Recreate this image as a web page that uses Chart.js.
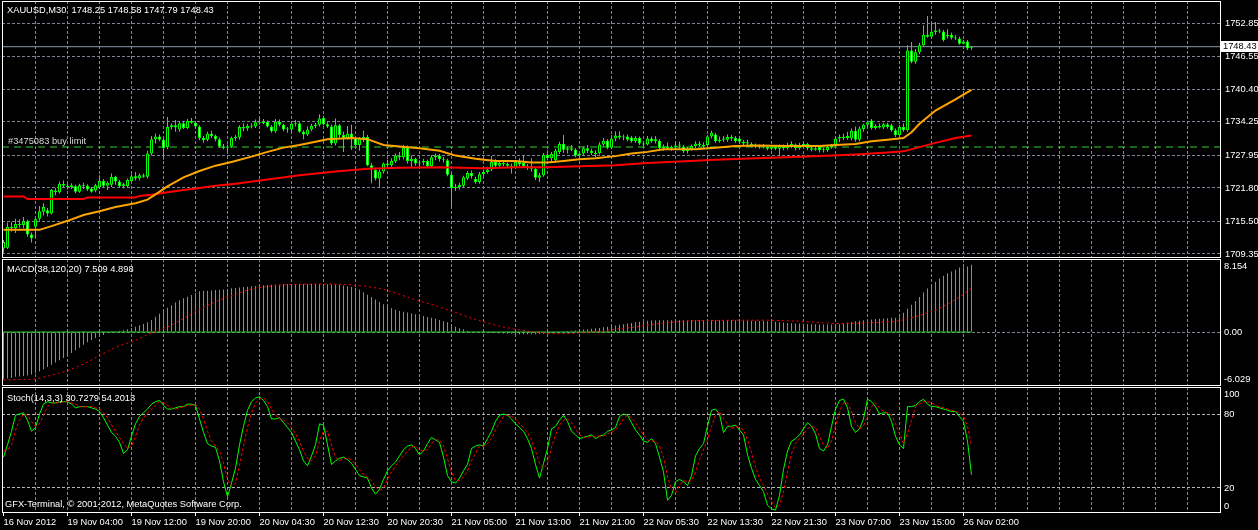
<!DOCTYPE html>
<html>
<head>
<meta charset="utf-8">
<title>XAUUSD,M30</title>
<script src="https://cdn.jsdelivr.net/npm/chart.js@4.4.1/dist/chart.umd.min.js"></script>
<style>
  html, body { margin: 0; padding: 0; background: #000; }
  body { position: relative; width: 1258px; height: 530px; overflow: hidden; }
  canvas { position: absolute; left: 0; display: block; }
  .txt { position: absolute; color: #fff; font: 9.3px/11px "Liberation Sans", Arial, sans-serif; white-space: pre; }
</style>
</head>
<body>
<canvas id="priceChart" width="1258" height="258" style="top:0px"></canvas>
<canvas id="macdChart" width="1258" height="128" style="top:258px"></canvas>
<canvas id="stochChart" width="1258" height="144" style="top:386px"></canvas>
<div class="txt" id="priceTitle" style="left:7px;top:5px"></div>
<div class="txt" id="macdTitle" style="left:7px;top:264px"></div>
<div class="txt" id="stochTitle" style="left:7px;top:393px"></div>
<div class="txt" id="copyright" style="left:5px;top:499px"></div>
<script>
// ---- data (M30 bars, index 0 = first bar on screen) ----
const symbol = 'XAUUSD,M30'
const macdCaption = 'MACD(38,120,20) 7.509 4.898'
const stochCaption = 'Stoch(14,3,3) 30.7279 54.2013'
const copyrightText = 'GFX-Terminal, \u00a9 2001-2012, MetaQuotes Software Corp.'
const buyLimitText = '#3475083 buy limit'
const buyLimitPrice = 1729.52

const xLabelBars = [0, 16, 32, 48, 64, 80, 96, 112, 128, 144, 160, 176, 192, 208, 224, 240]
const xLabelTexts = ['16 Nov 2012', '19 Nov 04:00', '19 Nov 12:00', '19 Nov 20:00', '20 Nov 04:30',
  '20 Nov 12:30', '20 Nov 20:30', '21 Nov 05:00', '21 Nov 13:00', '21 Nov 21:00', '22 Nov 05:30',
  '22 Nov 13:30', '22 Nov 21:30', '23 Nov 07:00', '23 Nov 15:00', '26 Nov 02:00']

const priceTicks = [1752.85, 1746.55, 1740.40, 1734.25, 1727.95, 1721.80, 1715.50, 1709.35]
const macdTickValues = [8.154, 0, -6.029]
const macdTickLabels = ['8.154', '0.00', '-6.029']
const stochTickValues = [100, 80, 20, 0]
const stochTickLabels = ['100', '80', '20', '0']
const stochLevels = [20, 80]

const opens = [
  1710.4,1710.5,1714.5,1714.2,1715.0,1714.8,1715.5,1713.0,1714.5,1716.0,
  1717.3,1717.6,1717.0,1721.3,1721.0,1722.6,1722.2,1722.0,1722.1,1721.1,
  1722.3,1722.2,1721.7,1721.3,1721.9,1723.1,1722.2,1722.4,1723.9,1723.0,
  1722.1,1722.1,1723.1,1724.0,1723.6,1724.2,1723.9,1728.3,1731.0,1731.5,
  1730.9,1729.5,1733.3,1733.6,1732.8,1734.0,1733.1,1734.4,1734.1,1733.4,
  1731.2,1730.9,1732.0,1731.6,1731.0,1729.6,1729.4,1729.6,1731.2,1731.3,
  1733.3,1733.0,1733.5,1733.4,1734.2,1734.0,1734.3,1733.4,1732.5,1734.3,
  1733.7,1732.8,1732.8,1733.9,1734.0,1732.4,1731.9,1732.8,1733.5,1733.7,
  1735.0,1733.8,1733.4,1730.2,1733.6,1731.8,1731.2,1732.0,1731.2,1729.9,
  1731.1,1731.4,1726.1,1725.2,1723.6,1724.9,1726.4,1726.1,1726.8,1727.9,
  1727.6,1729.4,1726.9,1727.3,1726.4,1726.6,1726.9,1725.9,1727.6,1727.9,
  1727.2,1727.0,1724.3,1721.8,1722.0,1722.2,1723.6,1724.6,1723.5,1722.9,
  1724.4,1724.8,1725.3,1726.7,1726.0,1726.5,1726.3,1726.0,1725.7,1726.7,
  1726.5,1725.9,1725.9,1725.4,1723.7,1724.2,1728.0,1727.4,1727.0,1728.6,
  1730.1,1729.0,1729.3,1729.0,1727.9,1728.3,1729.3,1728.8,1728.4,1728.4,
  1730.0,1730.7,1729.4,1731.1,1731.7,1731.3,1731.5,1731.3,1730.6,1731.2,
  1730.2,1730.0,1731.1,1730.6,1730.7,1729.3,1729.6,1729.3,1729.5,1729.8,
  1729.6,1728.7,1729.1,1729.7,1730.2,1729.9,1729.9,1731.5,1731.9,1730.6,
  1730.9,1730.9,1731.4,1731.2,1731.1,1730.5,1730.2,1730.1,1729.8,1729.6,
  1729.7,1729.5,1729.2,1729.6,1729.2,1729.7,1729.3,1729.9,1730.0,1729.3,
  1729.9,1730.1,1729.3,1729.0,1729.5,1728.9,1728.9,1729.5,1729.8,1731.1,
  1731.4,1731.2,1731.1,1732.6,1730.9,1732.9,1733.7,1734.5,1733.1,1733.5,
  1733.2,1733.8,1733.6,1732.7,1731.8,1733.3,1732.7,1747.7,1745.6,1747.4,
  1748.7,1750.7,1750.3,1751.2,1751.5,1751.3,1750.4,1750.7,1750.1,1750.0,
  1749.0,1749.4,1748.25
]
const highs = [
  1712.0,1715.3,1715.4,1716.0,1715.9,1716.3,1715.8,1713.4,1716.2,1718.4,
  1718.9,1718.0,1721.6,1721.8,1723.0,1723.2,1722.6,1722.7,1722.4,1722.6,
  1722.8,1722.5,1722.0,1722.6,1724.2,1723.5,1723.0,1724.5,1724.1,1723.3,
  1722.8,1723.6,1724.4,1724.8,1724.5,1724.5,1728.8,1731.6,1732.0,1731.9,
  1731.2,1735.2,1734.0,1734.6,1734.3,1734.4,1734.8,1735.0,1734.3,1733.6,
  1731.6,1732.4,1732.6,1731.9,1731.3,1730.1,1730.0,1731.5,1731.8,1733.6,
  1734.0,1733.9,1734.0,1734.7,1735.0,1734.8,1734.5,1733.6,1734.8,1734.7,
  1733.9,1733.3,1734.2,1734.6,1734.3,1732.7,1733.4,1733.9,1734.1,1735.7,
  1735.4,1734.2,1733.7,1734.9,1733.9,1732.4,1733.5,1733.7,1731.5,1731.4,
  1732.6,1731.8,1726.5,1725.6,1725.3,1726.6,1727.1,1727.4,1728.3,1728.6,
  1729.9,1729.8,1727.9,1727.5,1727.0,1727.3,1727.1,1728.0,1728.3,1728.2,
  1727.7,1727.3,1724.6,1722.6,1722.8,1724.1,1725.0,1725.1,1723.9,1724.8,
  1725.3,1725.8,1727.8,1727.2,1726.9,1727.0,1726.6,1726.4,1727.0,1727.4,
  1728.0,1726.3,1727.4,1725.7,1724.6,1728.4,1728.9,1728.6,1729.2,1730.5,
  1731.8,1729.6,1729.9,1729.3,1728.5,1729.6,1729.9,1729.2,1728.9,1730.4,
  1731.2,1731.0,1731.8,1732.5,1732.5,1731.9,1731.9,1731.6,1731.6,1731.5,
  1730.6,1731.6,1731.5,1731.6,1731.0,1730.0,1730.4,1729.8,1730.4,1730.5,
  1729.9,1729.5,1730.0,1730.6,1730.6,1730.4,1731.8,1732.6,1732.2,1731.5,
  1731.6,1731.9,1731.8,1731.6,1731.4,1730.8,1730.9,1730.4,1730.2,1730.0,
  1730.1,1729.8,1729.9,1729.9,1730.0,1730.0,1730.3,1730.6,1730.2,1730.3,
  1730.5,1730.3,1729.6,1729.6,1729.7,1729.4,1729.8,1730.1,1731.5,1731.9,
  1732.0,1732.4,1733.0,1733.4,1733.4,1733.9,1734.5,1734.8,1733.8,1734.0,
  1734.1,1734.1,1733.9,1733.0,1733.7,1734.0,1748.7,1749.3,1748.0,1749.2,
  1752.5,1754.2,1752.8,1753.1,1751.8,1751.6,1751.7,1751.1,1750.6,1750.3,
  1749.7,1749.7,1748.58
]
const lows = [
  1709.6,1710.3,1713.6,1713.3,1714.3,1714.2,1712.6,1711.5,1712.3,1715.6,
  1716.6,1716.4,1716.8,1720.4,1720.7,1721.8,1721.5,1721.6,1720.8,1720.9,
  1721.6,1721.2,1720.9,1721.0,1721.6,1721.8,1721.4,1722.0,1722.4,1721.8,
  1721.7,1721.9,1722.9,1723.2,1723.2,1723.7,1723.6,1727.9,1730.2,1730.6,
  1727.1,1729.1,1732.8,1732.4,1732.4,1732.9,1732.9,1733.9,1733.1,1730.8,
  1730.3,1730.6,1731.2,1730.6,1729.4,1729.1,1728.6,1729.4,1730.7,1730.9,
  1732.5,1732.6,1733.0,1733.1,1733.7,1733.8,1733.2,1732.2,1732.2,1733.4,
  1732.5,1732.2,1732.4,1733.4,1732.2,1731.0,1731.6,1732.5,1733.1,1733.4,
  1733.6,1733.1,1729.9,1729.8,1731.2,1728.6,1730.9,1729.0,1729.6,1728.8,
  1730.4,1725.9,1722.7,1723.2,1721.8,1724.5,1725.6,1725.8,1726.5,1727.0,
  1727.2,1726.4,1725.5,1726.0,1725.9,1726.1,1725.6,1725.6,1727.0,1726.8,
  1726.6,1724.0,1718.3,1721.2,1721.5,1721.9,1723.3,1723.6,1722.6,1722.6,
  1723.9,1724.5,1725.0,1725.7,1725.8,1725.9,1725.6,1724.5,1725.4,1725.9,
  1725.6,1725.2,1724.9,1723.3,1722.9,1723.9,1727.0,1726.6,1726.6,1728.2,
  1728.4,1728.3,1728.7,1727.6,1727.4,1728.0,1728.4,1728.0,1727.6,1728.1,
  1729.6,1729.1,1729.1,1730.6,1731.0,1730.8,1730.6,1730.3,1730.3,1729.9,
  1729.6,1729.8,1730.3,1730.2,1728.9,1728.8,1729.0,1728.8,1729.0,1729.2,
  1728.4,1728.3,1728.8,1729.3,1729.6,1729.4,1729.6,1731.1,1730.3,1730.3,
  1730.5,1730.5,1730.7,1730.3,1730.2,1729.9,1729.6,1729.5,1729.3,1729.2,
  1729.3,1728.9,1728.9,1728.9,1727.8,1728.9,1729.0,1729.3,1728.9,1729.0,
  1729.5,1728.9,1728.7,1728.8,1728.5,1728.5,1728.6,1729.2,1729.5,1730.4,
  1730.8,1730.9,1730.8,1730.5,1730.6,1732.4,1733.2,1732.8,1732.8,1733.0,
  1732.9,1733.0,1732.4,1731.4,1731.5,1732.4,1732.4,1745.3,1745.2,1747.0,
  1748.4,1750.1,1750.0,1750.7,1751.0,1749.4,1750.0,1749.8,1749.7,1748.8,
  1748.9,1747.8,1747.79
]
const closes = [
  1711.6,1714.5,1714.2,1715.0,1714.8,1715.5,1713.0,1712.3,1715.9,1717.4,
  1718.2,1717.0,1721.4,1721.0,1722.6,1722.2,1722.0,1722.3,1721.1,1722.3,
  1722.2,1721.5,1721.1,1722.3,1723.1,1722.2,1722.8,1723.9,1723.0,1722.1,
  1722.5,1723.3,1724.0,1723.6,1724.2,1723.9,1728.3,1731.0,1731.5,1730.9,
  1729.3,1733.3,1733.6,1733.2,1734.0,1733.1,1734.4,1734.1,1733.4,1731.2,
  1730.8,1732.0,1731.6,1731.0,1729.6,1729.4,1729.6,1731.2,1731.3,1733.3,
  1733.0,1733.5,1733.4,1734.2,1734.0,1734.3,1733.4,1732.5,1734.3,1733.7,
  1732.8,1733.0,1733.9,1734.0,1732.4,1731.9,1732.8,1733.5,1733.7,1734.9,
  1733.8,1733.4,1730.2,1733.6,1731.8,1731.2,1732.0,1731.2,1729.9,1731.1,
  1731.4,1726.1,1725.5,1723.6,1724.9,1726.4,1726.1,1726.9,1727.9,1727.6,
  1729.4,1726.9,1727.3,1726.4,1726.6,1726.9,1725.9,1727.6,1727.9,1727.2,
  1727.0,1724.3,1721.8,1722.0,1722.4,1723.8,1724.6,1724.0,1722.9,1724.4,
  1724.8,1725.3,1726.7,1726.0,1726.5,1726.3,1726.0,1725.7,1726.7,1726.2,
  1725.9,1725.6,1725.4,1723.7,1724.2,1728.0,1727.4,1728.2,1728.8,1730.1,
  1729.0,1729.3,1729.0,1727.9,1728.3,1729.3,1728.8,1728.4,1728.2,1730.0,
  1730.7,1729.4,1731.1,1731.7,1731.3,1731.5,1730.9,1730.6,1731.2,1730.2,
  1730.0,1731.1,1730.6,1731.0,1729.3,1729.6,1729.3,1729.5,1729.8,1730.0,
  1728.7,1729.1,1729.7,1730.2,1729.9,1729.7,1731.5,1732.2,1730.6,1730.9,
  1731.1,1731.4,1731.1,1730.6,1730.5,1730.2,1730.4,1729.8,1729.6,1729.7,
  1729.9,1729.2,1729.6,1729.2,1729.7,1729.3,1729.9,1730.0,1729.3,1729.9,
  1730.1,1729.3,1729.0,1729.3,1728.9,1729.1,1729.5,1729.8,1731.1,1731.4,
  1731.2,1731.6,1732.6,1730.9,1733.0,1733.7,1734.2,1733.1,1733.5,1733.2,
  1733.8,1733.3,1732.7,1731.8,1733.3,1732.7,1747.7,1745.6,1747.4,1748.7,
  1750.7,1750.3,1751.2,1751.5,1751.3,1749.7,1750.7,1750.1,1750.0,1749.0,
  1749.4,1748.1,1748.43
]

// moving averages, read at the bars where they bend
const maFastBars = [0,9,12,16,20,24,28,33,36,38,41,45,49,53,57,62,66,70,74,78,81,87,91,95,99,104,109,113,118,123,
  128,132,136,140,144,148,153,157,161,165,169,173,178,183,188,196,204,208,213,217,221,225,227,229,233,238,242]
const maFastValues = [1713.9,1713.9,1714.6,1715.6,1716.7,1717.4,1718.2,1718.9,1719.6,1720.6,1722.1,1723.8,1725.0,1726.0,1726.7,
  1727.7,1728.6,1729.4,1729.9,1730.5,1731.0,1731.2,1731.0,1729.9,1729.6,1729.3,1728.8,1727.9,1727.3,1726.9,
  1726.9,1726.6,1726.6,1726.9,1727.2,1727.4,1727.8,1728.3,1728.6,1729.1,1729.1,1729.1,1729.4,1729.7,1729.8,
  1729.7,1729.7,1729.9,1730.1,1730.6,1730.9,1731.2,1732.3,1733.9,1736.4,1738.5,1740.3]
const maSlowBars = [0,5,6,20,21,33,34,37,41,45,49,53,58,66,74,83,91,99,109,120,128,136,144,153,161,169,178,188,
  196,204,213,221,225,229,233,238,242]
const maSlowValues = [1720.2,1720.2,1719.7,1719.7,1720.0,1720.0,1720.3,1720.5,1721.0,1721.4,1721.8,1722.2,1722.6,1723.4,
  1724.2,1724.9,1725.4,1725.6,1725.7,1725.5,1725.7,1725.7,1725.9,1726.1,1726.5,1726.8,1727.1,1727.4,
  1727.6,1727.8,1728.1,1728.5,1728.7,1729.5,1730.3,1731.2,1731.7]

const macdHist = [
  -5.27,-5.2,-5.1,-5.0,-4.97,-4.92,-4.85,-4.75,-4.6,-4.4,
  -4.15,-3.9,-3.65,-3.4,-3.15,-2.9,-2.64,-2.35,-2.05,-1.75,
  -1.43,-1.15,-0.9,-0.68,-0.5,-0.32,-0.12,0.02,0.08,0.14,
  0.19,0.3,0.45,0.6,0.75,0.9,1.1,1.35,1.7,2.05,
  2.4,2.7,3.0,3.3,3.55,3.77,3.95,4.14,4.35,4.55,
  4.6,4.62,4.65,4.7,4.72,4.76,4.8,4.88,4.92,4.97,
  5.02,5.06,5.1,5.14,5.18,5.22,5.26,5.28,5.3,5.32,
  5.34,5.35,5.35,5.36,5.36,5.36,5.36,5.36,5.35,5.35,
  5.35,5.34,5.33,5.3,5.25,5.2,5.12,5.04,4.92,4.75,
  4.45,4.15,3.9,3.62,3.35,3.1,2.85,2.65,2.48,2.35,
  2.26,2.18,2.08,1.98,1.88,1.78,1.68,1.58,1.48,1.35,
  1.2,1.1,0.85,0.6,0.42,0.3,0.15,0.06,0.02,0.0,
  -0.05,-0.08,-0.1,-0.12,-0.14,-0.16,-0.18,-0.2,-0.22,-0.24,
  -0.25,-0.26,-0.26,-0.25,-0.23,-0.2,-0.15,-0.1,-0.05,0.02,
  0.06,0.1,0.14,0.18,0.22,0.27,0.32,0.37,0.42,0.46,
  0.52,0.58,0.65,0.72,0.8,0.88,0.95,1.02,1.08,1.14,
  1.2,1.25,1.28,1.3,1.31,1.32,1.32,1.32,1.32,1.32,
  1.32,1.32,1.32,1.32,1.32,1.32,1.32,1.32,1.32,1.32,
  1.31,1.31,1.3,1.3,1.29,1.28,1.27,1.26,1.25,1.23,
  1.22,1.2,1.17,1.14,1.1,1.06,1.02,0.99,0.96,0.94,
  0.92,0.9,0.88,0.86,0.85,0.84,0.84,0.83,0.84,0.88,
  0.95,1.05,1.12,1.2,1.25,1.3,1.35,1.4,1.45,1.48,
  1.52,1.55,1.58,1.6,1.66,2.15,2.6,3.05,3.47,3.92,
  4.41,4.86,5.24,5.62,5.99,6.29,6.55,6.75,6.94,7.2,
  7.23,7.31,7.51
]
const signalBars = [0,8,12,16,20,24,28,33,37,41,45,49,53,58,62,66,70,74,78,83,87,91,95,99,103,108,112,116,120,124,
  128,133,137,141,145,149,153,158,162,166,170,174,183,191,199,205,209,213,218,224,229,233,236,239,242]
const signalValues = [-5.35,-5.27,-4.82,-4.33,-3.58,-2.64,-1.69,-0.94,-0.08,0.56,1.51,2.56,3.39,4.22,4.82,5.08,5.27,5.35,
  5.35,5.35,5.27,5.08,4.78,4.2,3.6,2.94,2.34,1.69,1.13,0.64,0.3,0.0,-0.19,-0.19,-0.08,0.08,0.3,0.56,0.83,1.05,
  1.21,1.28,1.32,1.32,1.21,1.02,0.94,0.98,1.05,1.25,1.85,2.45,3.1,3.9,4.9]

const stochK = [
  45,55,66,79,80,81,75,66,69,80,
  88,90,89,89,90,90,90,88,85,86,
  86,86,85,84,82,77,71,65,62,57,
  48,51,62,72,78,81,84,88,90,91,
  87,84,84,85,86,86,88,88,87,76,
  65,56,54,53,42,25,13,24,36,55,
  70,83,90,93,94,91,86,76,76,77,
  73,69,65,58,51,42,38,46,55,72,
  71,55,39,42,44,45,43,40,35,30,
  29,28,20,15,19,27,34,38,41,46,
  51,54,55,52,47,50,56,61,59,57,
  45,30,25,24,28,34,39,52,54,55,
  54,60,66,74,79,80,79,76,72,69,
  66,60,52,39,28,40,52,68,70,75,
  79,74,66,63,60,61,62,63,60,62,
  63,66,67,69,78,80,79,73,67,63,
  58,57,60,56,45,33,10,14,25,27,
  25,22,30,46,52,56,70,83,84,80,
  65,70,70,71,67,63,47,36,27,22,
  17,6,3,2,14,35,50,58,60,63,
  68,73,70,64,52,50,55,70,84,91,
  92,85,70,65,68,76,92,90,86,80,
  81,81,74,62,55,52,86,86,87,90,
  92,88,86,86,85,84,83,82,82,78,
  74,58,30.73
]
const stochD = [
  50,51,55,67,75,80,79,74,70,72,
  79,86,89,89,89,90,90,89,88,86,
  86,86,86,85,84,81,77,71,66,61,
  56,52,54,62,71,77,81,84,87,90,
  89,87,85,84,85,86,87,87,88,84,
  76,66,58,54,50,40,27,21,24,38,
  54,69,81,89,92,93,90,84,79,76,
  75,73,69,64,58,50,44,42,46,58,
  66,66,55,45,42,44,44,43,39,35,
  31,29,26,21,18,20,27,33,38,42,
  46,50,53,54,51,50,51,56,59,59,
  54,44,33,26,26,29,34,42,48,54,
  54,56,60,67,73,78,79,78,76,72,
  69,65,59,50,40,36,40,53,63,71,
  75,76,73,68,63,61,61,62,62,62,
  62,64,65,67,71,76,79,77,73,68,
  63,59,58,58,54,45,29,19,16,22,
  26,25,26,33,43,51,59,70,79,82,
  76,72,68,70,69,67,59,49,37,28,
  22,15,9,4,6,17,33,48,56,60,
  64,68,70,69,62,55,52,58,70,82,
  89,89,82,73,68,70,79,86,89,85,
  82,81,79,72,64,56,64,75,86,88,
  90,90,89,87,86,85,84,83,82,81,
  78,70,54.2
]

// ---- look ----
const FONT_FAMILY = "'Liberation Sans', Arial, sans-serif"
const FONT_SIZE = 9.3
Chart.defaults.font.family = FONT_FAMILY
Chart.defaults.font.size = FONT_SIZE
Chart.defaults.color = '#ffffff'

const GRID = '#7a8696'
const LEVEL = '#b8b8b8'
const BAR_GREEN = '#00ff00'
const HIST_GREEN = '#32cd32'
const X_MIN = -0.375
const X_MAX = 304.125
const lastBar = closes.length - 1

const gridBars = []
for (let b = 0; b <= 296; b += 8) gridBars.push(b)

const pts = (xs, ys) => xs.map((x, k) => ({ x: x, y: ys[k] }))
const perBar = (ys) => ys.map((y, i) => ({ x: i, y: y }))

// no automatic room for edge labels: the windows must keep their exact size
function noPadding(axis) {
    axis.paddingTop = 0
    axis.paddingBottom = 0
    axis.paddingLeft = 0
    axis.paddingRight = 0
}

function timeAxis(withLabels) {
    return {
        type: 'linear',
        min: X_MIN,
        max: X_MAX,
        offset: false,
        afterBuildTicks: (axis) => { axis.ticks = gridBars.map(v => ({ value: v })) },
        afterFit: (axis) => { axis.height = withLabels ? 17 : 0; noPadding(axis) },
        grid: {
            offset: false,
            color: (c) => (c.tick && c.tick.value === 0) ? 'rgba(0,0,0,0)' : GRID,
            drawTicks: withLabels,
            tickLength: 3,
            tickColor: (c) => (c.tick && xLabelBars.includes(c.tick.value)) ? '#ffffff' : 'rgba(0,0,0,0)',
            tickBorderDash: []
        },
        border: { display: false, dash: [3, 2] },
        ticks: {
            display: withLabels,
            autoSkip: false,
            maxRotation: 0,
            minRotation: 0,
            align: 'start',
            padding: 1,
            color: '#ffffff',
            callback: (v) => {
                const k = xLabelBars.indexOf(v)
                return k >= 0 ? xLabelTexts[k] : ''
            }
        }
    }
}

function sideAxis(min, max, gridValues, gridColor, showTicks) {
    return {
        position: 'right',
        min: min,
        max: max,
        afterBuildTicks: (axis) => { axis.ticks = gridValues.map(v => ({ value: v })) },
        afterFit: (axis) => { axis.width = 38; noPadding(axis) },
        grid: { color: gridColor, drawTicks: false },
        border: { display: false, dash: [3, 2] },
        ticks: {
            display: showTicks,
            autoSkip: false,
            padding: 5,
            color: '#ffffff',
            callback: (v) => Number(v).toFixed(2)
        }
    }
}

// white frame round each window
const panelFrame = {
    id: 'panelFrame',
    afterDraw(chart) {
        const { ctx, chartArea: a } = chart
        ctx.save()
        ctx.strokeStyle = '#ffffff'
        ctx.lineWidth = 1
        ctx.strokeRect(a.left + 0.5, a.top + 0.5, a.right - a.left, a.bottom - a.top - 1)
        ctx.restore()
    }
}

// indicator scale labels, kept inside the window like the terminal does
function edgeLabels(values, labels) {
    return {
        id: 'edgeLabels',
        afterDraw(chart) {
            const { ctx, chartArea: a, scales } = chart
            ctx.save()
            ctx.font = FONT_SIZE + 'px ' + FONT_FAMILY
            ctx.fillStyle = '#ffffff'
            ctx.textAlign = 'left'
            ctx.textBaseline = 'middle'
            values.forEach((v, k) => {
                let py = scales.y.getPixelForValue(v)
                py = Math.max(a.top + 7.8, Math.min(a.bottom - 6.8, py))
                ctx.fillText(labels[k], a.right + 4, py)
            })
            ctx.restore()
        }
    }
}

const priceExtras = {
    id: 'priceExtras',
    afterDatasetsDraw(chart) {
        const { ctx, chartArea: a, scales } = chart
        ctx.save()
        ctx.font = FONT_SIZE + 'px ' + FONT_FAMILY
        ctx.textAlign = 'left'
        ctx.textBaseline = 'middle'
        const yb = scales.y.getPixelForValue(buyLimitPrice)
        ctx.fillStyle = '#d8d8d8'
        ctx.fillText(buyLimitText, a.left + 6, yb - 5.5)
        const last = closes[lastBar]
        const yl = Math.round(scales.y.getPixelForValue(last))
        ctx.fillStyle = '#ffffff'
        ctx.fillRect(a.right + 1, yl - 6, chart.width - a.right - 1, 11)
        ctx.fillStyle = '#000000'
        ctx.fillText(last.toFixed(2), a.right + 3, yl - 0.5)
        ctx.restore()
    }
}

const common = {
    responsive: false,
    animation: false,
    devicePixelRatio: 1,
    events: [],
    layout: { autoPadding: false, padding: { left: 2, top: 1, right: 0, bottom: 0 } },
    plugins: { legend: { display: false }, tooltip: { enabled: false } }
}

// ---- price window ----
const priceChart = new Chart(document.getElementById('priceChart'), {
    type: 'bar',
    data: {
        datasets: [
            {
                type: 'line', label: 'MA fast', order: 0,
                data: pts(maFastBars, maFastValues),
                borderColor: '#ffa500', borderWidth: 2, pointRadius: 0, tension: 0
            },
            {
                type: 'line', label: 'MA slow', order: 0,
                data: pts(maSlowBars, maSlowValues),
                borderColor: '#ff0000', borderWidth: 2, pointRadius: 0, tension: 0
            },
            {
                label: 'body', order: 1, grouped: false,
                data: closes.map((c, i) => ({ x: i, y: [opens[i], c] })),
                barThickness: 3, maxBarThickness: 3, minBarLength: 1,
                borderWidth: 1, borderSkipped: false, inflateAmount: 0,
                borderColor: BAR_GREEN,
                backgroundColor: (c) => closes[c.dataIndex] >= opens[c.dataIndex] ? '#000000' : '#ffffff'
            },
            {
                label: 'wick', order: 2, grouped: false,
                data: closes.map((c, i) => ({ x: i, y: [lows[i], highs[i]] })),
                barThickness: 1, maxBarThickness: 1, minBarLength: 1,
                borderWidth: 0, inflateAmount: 0,
                backgroundColor: BAR_GREEN
            },
            {
                type: 'line', label: 'bid', order: 3,
                data: [{ x: X_MIN, y: closes[lastBar] }, { x: X_MAX, y: closes[lastBar] }],
                borderColor: '#8a9aac', borderWidth: 1, pointRadius: 0
            },
            {
                type: 'line', label: 'buy limit', order: 3,
                data: [{ x: X_MIN, y: buyLimitPrice }, { x: X_MAX, y: buyLimitPrice }],
                borderColor: '#32cd32', borderWidth: 1, borderDash: [7, 5], pointRadius: 0
            }
        ]
    },
    options: Object.assign({}, common, {
        scales: {
            x: timeAxis(false),
            y: sideAxis(1708.59, 1757.05, priceTicks, GRID, true)
        }
    }),
    plugins: [priceExtras, panelFrame]
})

// ---- MACD window ----
const macdChart = new Chart(document.getElementById('macdChart'), {
    type: 'bar',
    data: {
        datasets: [
            {
                type: 'line', label: 'signal', order: 0,
                data: pts(signalBars, signalValues),
                borderColor: '#ff0000', borderWidth: 1, borderDash: [2, 3], pointRadius: 0, tension: 0
            },
            {
                label: 'MACD', order: 1, grouped: false,
                data: perBar(macdHist),
                barThickness: 1, maxBarThickness: 1, borderWidth: 0, inflateAmount: 0,
                backgroundColor: HIST_GREEN
            },
            {
                type: 'line', label: 'base', order: 2,
                data: [{ x: 0, y: 0 }, { x: lastBar, y: 0 }],
                borderColor: HIST_GREEN, borderWidth: 1, pointRadius: 0
            }
        ]
    },
    options: Object.assign({}, common, {
        scales: {
            x: timeAxis(false),
            y: sideAxis(-6.029, 8.154, [0], GRID, false)
        }
    }),
    plugins: [edgeLabels(macdTickValues, macdTickLabels), panelFrame]
})

// ---- Stochastic window ----
const stochChart = new Chart(document.getElementById('stochChart'), {
    type: 'line',
    data: {
        datasets: [
            {
                label: '%D', order: 0,
                data: perBar(stochD),
                borderColor: '#ff0000', borderWidth: 1, borderDash: [3, 2], pointRadius: 0, tension: 0
            },
            {
                label: '%K', order: 1,
                data: perBar(stochK),
                borderColor: BAR_GREEN, borderWidth: 1, pointRadius: 0, tension: 0
            }
        ]
    },
    options: Object.assign({}, common, {
        scales: {
            x: timeAxis(true),
            y: sideAxis(-0.3, 101.9, stochLevels, LEVEL, false)
        }
    }),
    plugins: [edgeLabels(stochTickValues, stochTickLabels), panelFrame]
})

const f2 = (v) => v.toFixed(2)
document.getElementById('priceTitle').textContent =
    `${symbol}  ${f2(opens[lastBar])} ${f2(highs[lastBar])} ${f2(lows[lastBar])} ${f2(closes[lastBar])}`
document.getElementById('macdTitle').textContent = macdCaption
document.getElementById('stochTitle').textContent = stochCaption
document.getElementById('copyright').textContent = copyrightText
</script>
</body>
</html>
